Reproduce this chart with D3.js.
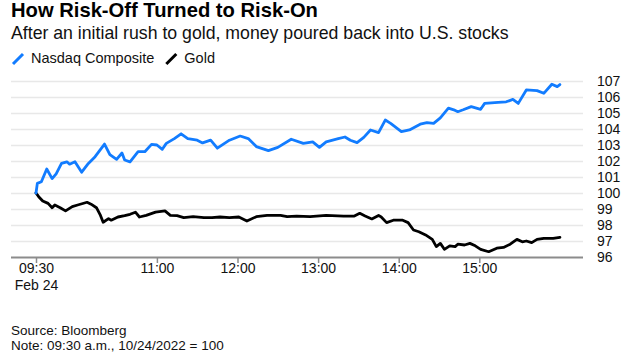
<!DOCTYPE html>
<html>
<head>
<meta charset="utf-8">
<script src="https://cdn.jsdelivr.net/npm/d3@7"></script>
<style>
  body { margin: 0; background: #fff; }
  svg { font-family: "Liberation Sans", Arial, sans-serif; }
  .axis text { fill: #111; font-size: 14px; }
</style>
</head>
<body>
<div id="chart"></div>
<script>
// values (09:30 = 100)
const nasdaqTimes = ["09:30","09:31","09:34","09:38","09:42","09:45","09:49","09:53","09:55","09:59",
  "10:04","10:09","10:14","10:21","10:25","10:30","10:34","10:36","10:40","10:46","10:51","10:56",
  "11:00","11:04","11:07","11:13","11:18","11:23","11:30","11:34","11:40","11:45","11:54",
  "12:02","12:08","12:14","12:23","12:30","12:40","12:49","12:56",
  "13:01","13:06","13:15","13:20","13:24","13:29","13:34","13:39","13:45","13:50","13:54",
  "14:02","14:08","14:16","14:21","14:26","14:31","14:37","14:41","14:44","14:48","14:54",
  "15:01","15:04","15:14","15:20","15:25","15:29","15:35","15:43","15:48","15:54","15:58","16:00"];
const nasdaqValues = [100.0,100.6,100.7,101.5,100.9,101.2,101.85,101.95,101.8,101.95,
  101.3,101.85,102.27,103.06,102.4,102.1,102.5,102.06,101.95,102.58,102.58,103.04,
  103.0,102.73,103.1,103.4,103.7,103.4,103.3,103.13,103.3,102.8,103.3,
  103.56,103.4,102.9,102.65,102.85,103.36,103.1,103.2,
  102.85,103.2,103.4,103.5,103.3,103.15,103.48,103.94,103.77,104.56,104.35,
  103.83,103.94,104.3,104.4,104.35,104.7,105.3,105.2,105.08,105.2,105.4,
  105.23,105.6,105.67,105.7,105.85,105.6,106.44,106.4,106.23,106.8,106.65,106.78];

const goldTimes = ["09:30","09:32","09:35","09:39","09:42","09:44","09:48","09:52","09:57",
  "10:01","10:08","10:11","10:15","10:18","10:20","10:24","10:26","10:31","10:36","10:40","10:44","10:47","10:52","10:59",
  "11:06","11:10","11:15","11:20","11:27","11:35","11:41","11:47","11:54",
  "12:01","12:07","12:14","12:22","12:32","12:37","12:44","12:54",
  "13:06","13:19","13:27","13:31","13:35","13:40","13:45","13:47","13:51","13:56",
  "14:03","14:07","14:11","14:15","14:20","14:25","14:28","14:31","14:34","14:38","14:42","14:44","14:49","14:53","14:57",
  "15:01","15:07","15:13","15:18","15:23","15:28","15:32","15:35","15:39","15:43","15:48","15:55","16:00"];
const goldValues = [100.0,99.77,99.5,99.35,99.08,99.25,99.08,98.88,99.15,
  99.25,99.42,99.3,99.08,98.6,98.17,98.4,98.3,98.5,98.58,98.67,98.8,98.5,98.6,98.8,
  98.88,98.6,98.58,98.46,98.52,98.46,98.46,98.5,98.46,
  98.5,98.25,98.52,98.6,98.6,98.52,98.56,98.52,
  98.6,98.56,98.56,98.73,98.56,98.38,98.6,98.5,98.15,98.3,
  98.3,98.15,97.69,97.58,97.38,97.1,96.65,96.85,96.48,96.7,96.65,96.8,96.75,96.85,96.7,
  96.48,96.33,96.55,96.6,96.8,97.1,96.95,97.0,96.9,97.1,97.17,97.17,97.23];

const yTicks = [96,97,98,99,100,101,102,103,104,105,106,107];
const xTicks = ["09:30","11:00","12:00","13:00","14:00","15:00"];

const seriesNames = ["Nasdaq Composite", "Gold"];
const seriesColors = ["#127cff", "#000000"];

const width = 639, height = 362;
const plot = {left: 11, right: 583, top: 81, bottom: 257};

const parseTime = d3.timeParse("%H:%M");
const fmt = d3.timeFormat("%H:%M");

const series = [
  nasdaqTimes.map((t, i) => ({t: parseTime(t), v: nasdaqValues[i]})),
  goldTimes.map((t, i) => ({t: parseTime(t), v: goldValues[i]}))
];

const svg = d3.select("#chart").append("svg")
  .attr("width", width)
  .attr("height", height);

// scales
const x = d3.scaleTime()
  .domain([parseTime("09:30"), parseTime("16:00")])
  .range([36, 36 + 6.5 * 80.6]);

const y = d3.scaleLinear()
  .domain([96, 107])
  .range([plot.bottom, plot.top]);

// titles
svg.append("text")
  .attr("x", 11).attr("y", 17)
  .style("font-size", "20.2px").style("font-weight", "bold").style("fill", "#000")
  .text("How Risk-Off Turned to Risk-On");

svg.append("text")
  .attr("x", 11).attr("y", 39)
  .style("font-size", "17.7px").style("fill", "#111")
  .text("After an initial rush to gold, money poured back into U.S. stocks");

// legend
let lx = 12;
seriesNames.forEach((name, i) => {
  const g = svg.append("g").attr("transform", `translate(${lx},0)`);
  g.append("line")
    .attr("x1", 1).attr("y1", 64).attr("x2", 11).attr("y2", 54)
    .attr("stroke", seriesColors[i]).attr("stroke-width", 3);
  const t = g.append("text")
    .attr("x", 19).attr("y", 63)
    .style("font-size", "14.5px").style("fill", "#111")
    .text(name);
  lx += 19 + t.node().getComputedTextLength() + 11;
});

// y axis with gridlines
const yAxis = d3.axisRight(y)
  .tickValues(yTicks)
  .tickSize(-(plot.right - plot.left))
  .tickPadding(14)
  .tickFormat(d3.format("d"));

const yg = svg.append("g")
  .attr("class", "axis y-axis")
  .attr("transform", `translate(${plot.right},0)`)
  .call(yAxis);

yg.select(".domain").remove();
yg.selectAll(".tick line")
  .attr("stroke", d => d === 96 ? "#8c8c8c" : "#e8e8e8")
  .attr("stroke-width", d => d === 96 ? 2 : 1.5);
yg.selectAll(".tick text").attr("dy", "0.35em");

// x axis
const xAxis = d3.axisBottom(x)
  .tickValues(xTicks.map(parseTime))
  .tickSize(6)
  .tickPadding(10)
  .tickFormat(fmt);

const xg = svg.append("g")
  .attr("class", "axis x-axis")
  .attr("transform", `translate(0,${plot.bottom})`)
  .call(xAxis);

xg.select(".domain").remove();
xg.selectAll(".tick line").attr("stroke", "#8c8c8c").attr("stroke-width", 1.5);
xg.selectAll(".tick text").attr("y", 16).attr("dy", 0);
xg.selectAll(".tick").filter((d, i) => i === 0)
  .append("text")
  .attr("y", 33)
  .attr("text-anchor", "middle")
  .attr("fill", "#111")
  .text("Feb 24");

// lines
const line = d3.line()
  .x(d => x(d.t))
  .y(d => y(d.v))
  .curve(d3.curveLinear);

// gold first, nasdaq drawn on top
[1, 0].forEach(i => {
  svg.append("path")
    .datum(series[i])
    .attr("fill", "none")
    .attr("stroke", seriesColors[i])
    .attr("stroke-width", 2.8)
    .attr("stroke-linejoin", "round")
    .attr("stroke-linecap", "round")
    .attr("d", line);
});

// footer
svg.append("text")
  .attr("x", 11).attr("y", 335)
  .style("font-size", "13.5px").style("fill", "#111")
  .text("Source: Bloomberg");

svg.append("text")
  .attr("x", 11).attr("y", 350)
  .style("font-size", "13.5px").style("fill", "#111")
  .text("Note: 09:30 a.m., 10/24/2022 = 100");
</script>
</body>
</html>
